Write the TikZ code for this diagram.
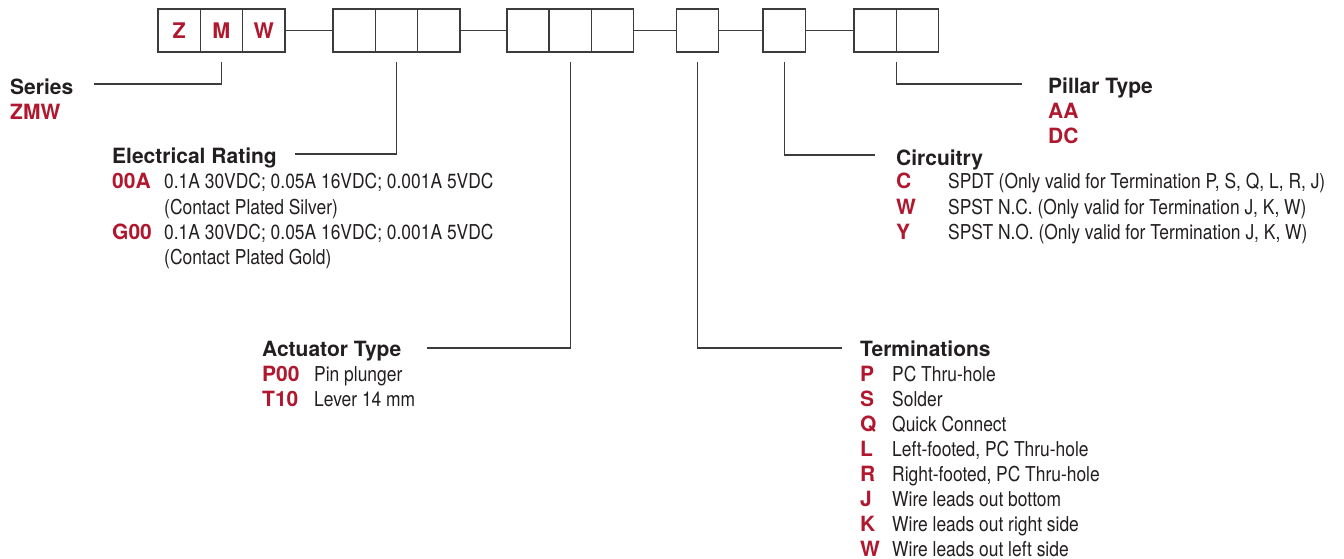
\documentclass[tikz,border=0pt]{standalone}
\usepackage{fontspec}
\setmainfont{TeX Gyre Heros}
\newfontfamily\condfont[FakeStretch=0.85]{TeX Gyre Heros}
\usetikzlibrary{positioning}
\definecolor{codered}{HTML}{B0182F}
\definecolor{ink}{HTML}{231F20}
\definecolor{rulegray}{HTML}{3C3C3C}

\begin{document}
\begin{tikzpicture}[x=1pt,y=-1pt,font=\fontsize{21}{25}\selectfont]
    \tikzstyle{cell}=[draw=rulegray, line width=1.4pt, minimum width=42.3pt, minimum height=43pt, inner sep=0pt, outer sep=0pt, text=codered, font=\fontsize{21.5}{25}\selectfont\bfseries]
    \tikzstyle{partname}=[anchor=base west, inner sep=0pt, text=ink, font=\fontsize{21}{25}\selectfont\bfseries]
    \tikzstyle{optcode}=[anchor=base west, inner sep=0pt, text=codered, font=\fontsize{21}{25}\selectfont\bfseries]
    \tikzstyle{optdesc}=[anchor=base west, inner sep=0pt, text=ink, font=\fontsize{20.5}{25}\selectfont\condfont]
    \tikzstyle{leader}=[draw=rulegray, line width=1.3pt]
    \useasboundingbox (0,0) rectangle (1344,559);

    % Part number boxes
    \node[cell] (z) at (179.15,30.5) {Z};
    \node[cell,right=0pt of z] (m) {M};
    \node[cell,right=0pt of m] (w) {W};

    \node[cell,right=48pt of w] (er1) {};
    \node[cell,right=0pt of er1] (er2) {};
    \node[cell,right=0pt of er2] (er3) {};

    \node[cell,right=47pt of er3] (at1) {};
    \node[cell,right=0pt of at1] (at2) {};
    \node[cell,right=0pt of at2] (at3) {};

    \node[cell,right=42.5pt of at3] (term) {};

    \node[cell,right=44.5pt of term] (circ) {};

    \node[cell,right=48.7pt of circ] (pil1) {};
    \node[cell,right=0pt of pil1] (pil2) {};

    % Series
    \node[partname] (series) at (10,95) {Series};
    \node[optcode] (zmw) at (10,120) {ZMW};

    % Electrical Rating
    \node[partname] (elec) at (112,164) {Electrical Rating};
    \node[optcode] (ooa) at (112,189) {00A};
    \node[optdesc] (ooad) at (164,189) {0.1A 30VDC; 0.05A 16VDC; 0.001A 5VDC};
    \node[optdesc] (ooae) at (164,214) {(Contact Plated Silver)};
    \node[optcode] (goo) at (112,239) {G00};
    \node[optdesc] (good) at (164,239) {0.1A 30VDC; 0.05A 16VDC; 0.001A 5VDC};
    \node[optdesc] (gooe) at (164,264) {(Contact Plated Gold)};

    % Actuator Type
    \node[partname] (act) at (262,356) {Actuator Type};
    \node[optcode] (poo) at (262,381) {P00};
    \node[optdesc] (pood) at (314,381) {Pin plunger};
    \node[optcode] (tio) at (262,406) {T10};
    \node[optdesc] (tiod) at (314,406) {Lever 14 mm};

    % Terminations
    \node[partname] (terms) at (860,356) {Terminations};
    \node[optcode] (tp) at (860,381) {P};
    \node[optdesc] (tpd) at (892,381) {PC Thru-hole};
    \node[optcode] (ts) at (860,406) {S};
    \node[optdesc] (tsd) at (892,406) {Solder};
    \node[optcode] (tq) at (860,431) {Q};
    \node[optdesc] (tqd) at (892,431) {Quick Connect};
    \node[optcode] (tl) at (860,456) {L};
    \node[optdesc] (tld) at (892,456) {Left-footed, PC Thru-hole};
    \node[optcode] (tr) at (860,481) {R};
    \node[optdesc] (trd) at (892,481) {Right-footed, PC Thru-hole};
    \node[optcode] (tj) at (860,506) {J};
    \node[optdesc] (tjd) at (892,506) {Wire leads out bottom};
    \node[optcode] (tk) at (860,531) {K};
    \node[optdesc] (tkd) at (892,531) {Wire leads out right side};
    \node[optcode] (tw) at (860,556) {W};
    \node[optdesc] (twd) at (892,556) {Wire leads out left side};

    % Circuitry
    \node[partname] (circuitry) at (896,165) {Circuitry};
    \node[optcode] (cc) at (896,189) {C};
    \node[optdesc] (ccd) at (948,189) {SPDT (Only valid for Termination P, S, Q, L, R, J)};
    \node[optcode] (cw) at (896,214) {W};
    \node[optdesc] (cwd) at (948,214) {SPST N.C. (Only valid for Termination J, K, W)};
    \node[optcode] (cy) at (896,239) {Y};
    \node[optdesc] (cyd) at (948,239) {SPST N.O. (Only valid for Termination J, K, W)};

    % Pillar Type
    \node[partname] (pillar) at (1048,94) {Pillar Type};
    \node[optcode] (paa) at (1048,119) {AA};
    \node[optcode] (pdc) at (1048,144) {DC};

    % leader ends
    \coordinate (seriesend) at (94,84);
    \coordinate (elecend) at (295,154);
    \coordinate (actend) at (427,348);
    \coordinate (termsend) at (842,348);
    \coordinate (circend) at (875,155);
    \coordinate (pillarend) at (1022,84);

    \draw[leader] (w.east) -- (er1.west);
    \draw[leader] (er3.east) -- (at1.west);
    \draw[leader] (at3.east) -- (term.west);
    \draw[leader] (term.east) -- (circ.west);
    \draw[leader] (circ.east) -- (pil1.west);

    \draw[leader] ([yshift=-10pt]m.south) |- (seriesend);
    \draw[leader] ([yshift=-10pt]er2.south) |- (elecend);
    \draw[leader] ([yshift=-10pt]at2.south) |- (actend);
    \draw[leader] ([yshift=-10pt]term.south) |- (termsend);
    \draw[leader] ([yshift=-10pt]circ.south) |- (circend);
    \draw[leader] ([yshift=-10pt]pil1.south east) |- (pillarend);
\end{tikzpicture}
\end{document}
